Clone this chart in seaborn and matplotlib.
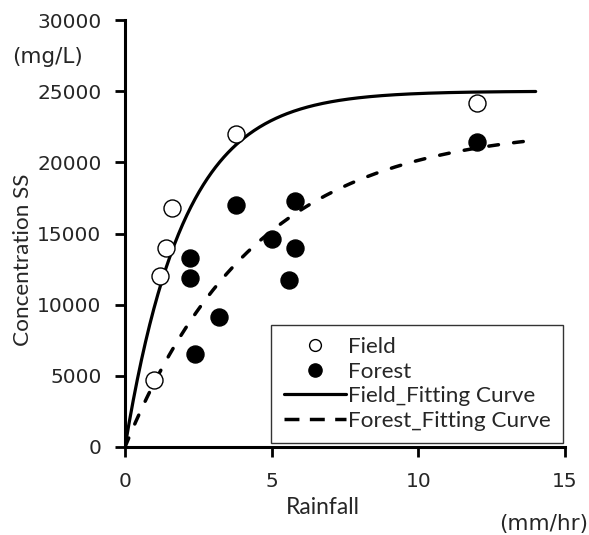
import numpy as np
import pandas as pd
import matplotlib
matplotlib.use("Agg")
import matplotlib.pyplot as plt
import seaborn as sns
from matplotlib.lines import Line2D

# Observed data
field_x = [1.0, 1.2, 1.4, 1.6, 3.8, 12.0]
field_y = [4700, 12000, 14000, 16800, 22000, 24200]
forest_x = [2.2, 2.2, 2.4, 3.2, 3.8, 5.0, 5.6, 5.8, 5.8, 12.0]
forest_y = [13300, 11900, 6500, 9100, 17000, 14600, 11700, 14000, 17300, 21400]

# Fitting curve parameters: y = a * (1 - exp(-b x))
field_fit = {"a": 25000, "b": 0.50}
forest_fit = {"a": 22540, "b": 0.224}
fit_xmax = 14

x_ticks = [0, 5, 10, 15]
y_ticks = [0, 5000, 10000, 15000, 20000, 25000, 30000]
legend_labels = ["Field", "Forest", "Field_Fitting Curve", "Forest_Fitting Curve"]

sns.set_style("white")
plt.rcParams["font.family"] = ["DejaVu Sans"]

fig = plt.figure(figsize=(5.89, 5.35), dpi=100)
ax = fig.add_axes([125/589, 1-447/535, 440/589, 427/535])

xs = np.linspace(0, fit_xmax, 300)
df_field = pd.DataFrame({"x": xs, "y": field_fit["a"]*(1-np.exp(-field_fit["b"]*xs))})
df_forest = pd.DataFrame({"x": xs, "y": forest_fit["a"]*(1-np.exp(-forest_fit["b"]*xs))})
sns.lineplot(data=df_field, x="x", y="y", ax=ax, color="black", lw=2.3, legend=False)
sns.lineplot(data=df_forest, x="x", y="y", ax=ax, color="black", lw=2.5, legend=False,
             linestyle=(0, (2.8, 4.4)), dash_capstyle="round")

sns.scatterplot(x=field_x, y=field_y, ax=ax, s=150, marker="o",
                facecolor="white", edgecolor="black", linewidth=1.0, zorder=3)
sns.scatterplot(x=forest_x, y=forest_y, ax=ax, s=150, marker="o",
                color="black", edgecolor="black", linewidth=1.0, zorder=3)

ax.set_xlim(0, 15)
ax.set_ylim(0, 30000)
ax.set_xticks(x_ticks)
ax.set_yticks(y_ticks)
ax.set_xticklabels([str(t) for t in x_ticks], fontsize=14.5)
ax.set_yticklabels([str(t) for t in y_ticks], fontsize=14.5)
ax.tick_params(direction="out", length=7, width=2, color="black", bottom=True, left=True)
ax.tick_params(axis="y", pad=10)
ax.tick_params(axis="x", pad=11)
for s in ["top", "right"]:
    ax.spines[s].set_visible(False)
for s in ["left", "bottom"]:
    ax.spines[s].set_linewidth(2.2)
    ax.spines[s].set_color("black")
ax.set_xlabel("")
ax.set_ylabel("")

lab_font = "Lato"
fig.text(323/589, 1-507/535, "Rainfall", fontsize=16.4, family=lab_font, ha="center", va="center")
fig.text(588/589, 1-524/535, "(mm/hr)", fontsize=15.5, family="DejaVu Sans", ha="right", va="center")
fig.text(23/589, 1-260/535, "Concentration SS", fontsize=16.2, family=lab_font, rotation=90,
         ha="center", va="center")
fig.text(48/589, 1-57/535, "(mg/L)", fontsize=15.5, family="DejaVu Sans", ha="center", va="center")

handles = [
    Line2D([], [], marker="o", color="none", markerfacecolor="white", markeredgecolor="black", markersize=8.5),
    Line2D([], [], marker="o", color="none", markerfacecolor="black", markeredgecolor="black", markersize=9.5),
    Line2D([], [], color="black", lw=2.3),
    Line2D([], [], color="black", lw=2.5, linestyle=(0, (4.3, 3.0))),
]
leg = ax.legend(handles, legend_labels, loc="lower right", bbox_to_anchor=(563/589, 1-443/535),
                bbox_transform=fig.transFigure, frameon=True, fancybox=False,
                prop={"family": lab_font, "size": 16.2}, handlelength=2.75, handletextpad=0.1,
                labelspacing=0.2, borderpad=0.55, borderaxespad=0)
leg.get_frame().set_edgecolor("black")
leg.get_frame().set_linewidth(1.0)

fig.savefig("out.png", dpi=100)
